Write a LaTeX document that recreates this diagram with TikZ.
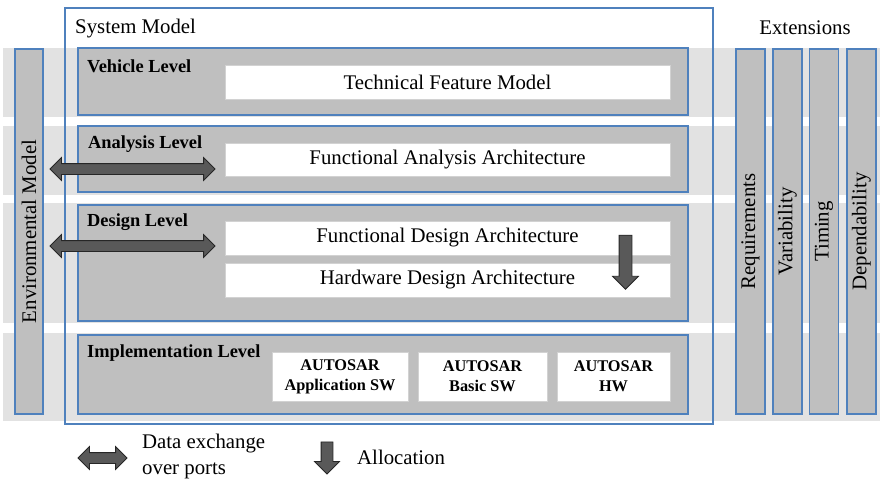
\documentclass[tikz,border=0pt]{standalone}
\usepackage{fontspec}
\setmainfont{Liberation Serif}
\usetikzlibrary{shapes.arrows}

\definecolor{bandgray}{HTML}{E2E2E2}
\definecolor{levelgray}{HTML}{BFBFBF}
\definecolor{edgeblue}{HTML}{4F81BD}
\definecolor{arrowgray}{HTML}{595959}

\tikzset{
  basefont/.style={font=\fontsize{20.8}{26}\selectfont},
  levelbox/.style={draw=edgeblue, line width=1.5pt, fill=levelgray, inner sep=0pt},
  partbox/.style={draw=levelgray!70, line width=0.4pt, fill=white, inner sep=0pt, basefont},
  autosarbox/.style={partbox, align=center, font=\fontsize{16.3}{20}\selectfont\bfseries},
  levellabel/.style={anchor=west, inner sep=0pt, font=\fontsize{18.4}{22}\selectfont\bfseries},
  sidebar/.style={draw=edgeblue, line width=1.5pt, fill=levelgray, inner sep=0pt,
    rotate=90, minimum width=365pt, basefont},
  exchange/.style={double arrow, double arrow head extend=6pt, inner xsep=0pt,
    inner ysep=5pt, fill=arrowgray, draw=black!85, line width=0.8pt},
  allocate/.style={single arrow, single arrow head extend=6.5pt, inner xsep=0pt,
    inner ysep=6pt, fill=arrowgray, draw=black!85, line width=0.8pt, rotate=-90},
  plaintext/.style={inner sep=0pt, basefont},
}

\begin{document}
\begin{tikzpicture}[x=1pt,y=-1pt]
\useasboundingbox (0,0) rectangle (880,479);

% horizontal level bands
\fill[bandgray] (3,48) rectangle (880,117);
\fill[bandgray] (3,126) rectangle (880,195);
\fill[bandgray] (3,203) rectangle (880,323);
\fill[bandgray] (3,333) rectangle (880,421);

% system model frame
\node[draw=edgeblue, line width=1.2pt, inner sep=0pt,
      minimum width=648pt, minimum height=416pt] (sys) at (389,216) {};
\node[plaintext, anchor=west] (systitle) at (75,29) {System Model};

% environmental model
\node[sidebar, minimum height=28pt] (env) at (29,231.5) {Environmental Model};

% levels
\node[levelbox, minimum width=610pt, minimum height=67pt] (vehicle) at (383,81.5) {};
\node[levelbox, minimum width=610pt, minimum height=66pt] (analysis) at (383,159) {};
\node[levelbox, minimum width=610pt, minimum height=116pt] (design) at (383,263) {};
\node[levelbox, minimum width=610pt, minimum height=79pt] (impl) at (383,374.5) {};

\node[levellabel] (vehlab) at (87,66) {Vehicle Level};
\node[levellabel] (analab) at (88,144) {Analysis Level};
\node[levellabel] (deslab) at (87,222) {Design Level};
\node[levellabel] (implab) at (87,353) {Implementation Level};

% artefacts in each level
\node[partbox, minimum width=445pt, minimum height=34pt] (tfm) at (447.5,82) {Technical Feature Model};
\node[partbox, minimum width=445pt, minimum height=33pt] (faa) at (447.5,159.5) {Functional Analysis Architecture};
\node[partbox, minimum width=445pt, minimum height=34pt] (fda) at (447.5,238) {Functional Design Architecture};
\node[partbox, minimum width=445pt, minimum height=34pt] (hda) at (447.5,280) {Hardware Design Architecture};

\node[autosarbox, minimum width=136pt, minimum height=49pt] (appsw) at (340,376.5) {AUTOSAR\\Application SW};
\node[autosarbox, minimum width=129pt, minimum height=49pt] (bsw) at (482.5,376.5) {AUTOSAR\\Basic SW};
\node[autosarbox, minimum width=113pt, minimum height=49pt] (hw) at (613.5,376.5) {AUTOSAR\\HW};

% port data exchange with the environment
\node[exchange, minimum height=165pt] (portana) at (132.5,169) {};
\node[exchange, minimum height=165pt] (portdes) at (132.5,246) {};

% allocation of functions to hardware
\node[allocate, minimum height=54pt] (alloc) at (625.5,259) {};

% extensions
\node[plaintext] (exttitle) at (805,28) {Extensions};
\node[sidebar, minimum height=29pt] (req) at (750.5,231.5) {Requirements};
\node[sidebar, minimum height=29pt] (var) at (787.5,231.5) {Variability};
\node[sidebar, minimum height=29pt] (tim) at (824,231.5) {Timing};
\node[sidebar, minimum height=29pt] (dep) at (861.5,231.5) {Dependability};

% legend
\node[exchange, minimum height=49pt] (legex) at (102.5,458) {};
\node[plaintext, anchor=west, align=left] (legextext) at (142,456.5) {Data exchange\\over ports};
\node[allocate, inner ysep=5.5pt, minimum height=32pt] (legal) at (327,455) {};
\node[plaintext, anchor=west] (legaltext) at (357,457) {Allocation};
\end{tikzpicture}
\end{document}
